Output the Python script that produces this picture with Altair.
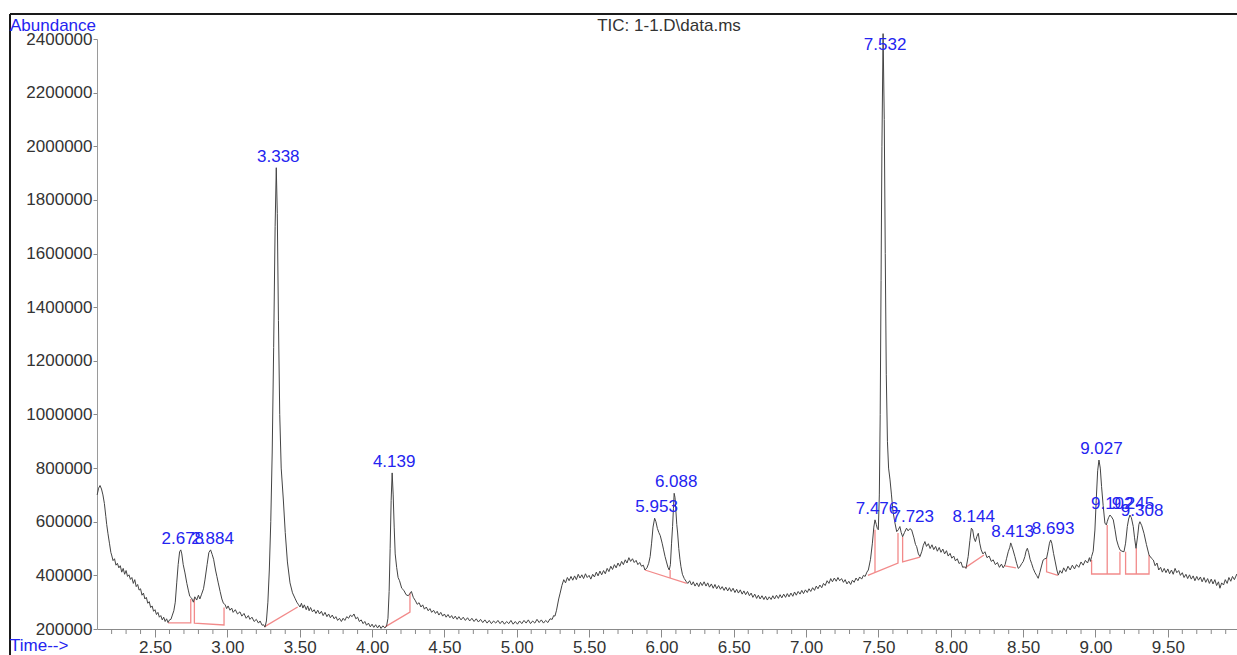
import altair as alt
import pandas as pd
import numpy as np

# ---------------- data (time in min, abundance in thousands) ----------------
trace_a = [(2.100, 700), (2.110, 725), (2.120, 735), (2.130, 722), (2.140, 700), (2.150, 668), (2.160, 620),
           (2.166, 590), (2.175, 555), (2.185, 520), (2.195, 485), (2.200, 476), (2.210, 455), (2.220, 462),
           (2.230, 438), (2.240, 445), (2.250, 428), (2.260, 436), (2.270, 412), (2.280, 426), (2.290, 404),
           (2.300, 418), (2.310, 396), (2.320, 402), (2.330, 385), (2.340, 392), (2.350, 370), (2.360, 384),
           (2.370, 358), (2.380, 366), (2.390, 345), (2.400, 350), (2.410, 326), (2.420, 334), (2.430, 312),
           (2.440, 318), (2.450, 296), (2.460, 302), (2.470, 280), (2.480, 286), (2.490, 266), (2.500, 272),
           (2.510, 254), (2.520, 262), (2.530, 244), (2.540, 250), (2.550, 234), (2.560, 244), (2.570, 228),
           (2.580, 238), (2.590, 224), (2.600, 234), (2.610, 236), (2.620, 252)]
trace_b = [(2.630, 268), (2.640, 300), (2.650, 372), (2.660, 440), (2.670, 488), (2.678, 495), (2.685, 480),
           (2.695, 440), (2.707, 409), (2.720, 370), (2.730, 345), (2.740, 322), (2.753, 315), (2.765, 300),
           (2.775, 320), (2.788, 308), (2.800, 326), (2.810, 312), (2.822, 330), (2.835, 350), (2.845, 383),
           (2.860, 440), (2.872, 485), (2.884, 495), (2.895, 478), (2.905, 460), (2.918, 420), (2.928, 395),
           (2.937, 372), (2.950, 340), (2.962, 312), (2.972, 297), (2.985, 290), (2.995, 276), (3.005, 286),
           (3.018, 270), (3.030, 278), (3.040, 262), (3.055, 272), (3.070, 256), (3.087, 264), (3.100, 248),
           (3.115, 258), (3.130, 240), (3.145, 250), (3.156, 236), (3.170, 244), (3.185, 228), (3.200, 236),
           (3.215, 222), (3.226, 230), (3.240, 214), (3.250, 216), (3.260, 207)]
trace_c = [(3.270, 230), (3.280, 300), (3.290, 420), (3.300, 600), (3.310, 860), (3.320, 1250), (3.330, 1700),
           (3.338, 1920), (3.345, 1750), (3.353, 1350), (3.362, 1000), (3.372, 800), (3.387, 681), (3.400, 560),
           (3.415, 450), (3.433, 372), (3.450, 335), (3.467, 315), (3.480, 300), (3.490, 292), (3.502, 282),
           (3.512, 296), (3.522, 278), (3.532, 290), (3.545, 272), (3.555, 286), (3.565, 268), (3.575, 280),
           (3.588, 264), (3.600, 272), (3.612, 258), (3.625, 270), (3.637, 256), (3.650, 266), (3.662, 250),
           (3.675, 262), (3.688, 246), (3.700, 256), (3.712, 242), (3.725, 252), (3.738, 238), (3.750, 246),
           (3.762, 232), (3.775, 240), (3.788, 228), (3.800, 240), (3.812, 232), (3.825, 246), (3.838, 240),
           (3.850, 252), (3.862, 246), (3.875, 256), (3.888, 238), (3.900, 244), (3.912, 228), (3.925, 234),
           (3.938, 220), (3.950, 228), (3.962, 214), (3.975, 222), (3.988, 208), (4.000, 218), (4.012, 206),
           (4.025, 216), (4.038, 204), (4.050, 214), (4.062, 202), (4.075, 212), (4.088, 204), (4.100, 210)]
trace_d = [(4.110, 240), (4.118, 340), (4.125, 500), (4.132, 680), (4.139, 782), (4.146, 700), (4.153, 580),
           (4.160, 480), (4.170, 430), (4.180, 392), (4.190, 380), (4.205, 352), (4.220, 344), (4.235, 328),
           (4.250, 324), (4.262, 332), (4.272, 340), (4.285, 318), (4.300, 305), (4.312, 292), (4.325, 298),
           (4.338, 282), (4.350, 290), (4.362, 274), (4.375, 282), (4.388, 268), (4.400, 276), (4.412, 262),
           (4.425, 270), (4.438, 258), (4.450, 266), (4.462, 252), (4.475, 262), (4.488, 248), (4.500, 256),
           (4.512, 244), (4.525, 254), (4.538, 242), (4.550, 250), (4.562, 238), (4.575, 248), (4.588, 236),
           (4.600, 246), (4.615, 234), (4.630, 244), (4.645, 232), (4.660, 242), (4.675, 230), (4.690, 240),
           (4.705, 228), (4.720, 238), (4.735, 226), (4.750, 236), (4.765, 224), (4.780, 234), (4.795, 222),
           (4.810, 232), (4.825, 220), (4.840, 230), (4.855, 222), (4.870, 232), (4.885, 220), (4.900, 230),
           (4.915, 218), (4.930, 228), (4.945, 220), (4.960, 232), (4.975, 218), (4.990, 228), (5.005, 218),
           (5.020, 230), (5.035, 220), (5.050, 232), (5.065, 222), (5.080, 234), (5.095, 220), (5.110, 230),
           (5.125, 222), (5.140, 236), (5.155, 224), (5.170, 234), (5.185, 222), (5.200, 232), (5.215, 224),
           (5.230, 238), (5.245, 236), (5.255, 250), (5.264, 248)]
trace_e = [(5.275, 270), (5.290, 312), (5.300, 334), (5.312, 362), (5.325, 384), (5.337, 372), (5.350, 392),
           (5.362, 380), (5.375, 396), (5.387, 382), (5.400, 398), (5.412, 384), (5.425, 404), (5.437, 390),
           (5.450, 402), (5.462, 388), (5.475, 406), (5.487, 392), (5.500, 400), (5.512, 386), (5.525, 404),
           (5.537, 394), (5.550, 412), (5.562, 398), (5.575, 416), (5.587, 402), (5.600, 418), (5.612, 406),
           (5.625, 426), (5.637, 414), (5.650, 434), (5.662, 422), (5.675, 440), (5.687, 428), (5.700, 446),
           (5.712, 434), (5.725, 452), (5.737, 440), (5.750, 458), (5.762, 446), (5.775, 466), (5.787, 452),
           (5.800, 462), (5.812, 448), (5.825, 456), (5.837, 440), (5.850, 448), (5.862, 434), (5.875, 438),
           (5.886, 420), (5.900, 428), (5.912, 445), (5.922, 470), (5.932, 520), (5.942, 580), (5.953, 613),
           (5.962, 600), (5.972, 575), (5.982, 560), (5.992, 548), (6.005, 520), (6.015, 495), (6.025, 470),
           (6.035, 450), (6.045, 430), (6.054, 420), (6.062, 440), (6.070, 520), (6.077, 582), (6.083, 650),
           (6.088, 706), (6.094, 690), (6.100, 640), (6.106, 590), (6.112, 558), (6.120, 500), (6.128, 460),
           (6.135, 432), (6.145, 404), (6.158, 388), (6.170, 378), (6.182, 370), (6.195, 380), (6.208, 364),
           (6.220, 376), (6.232, 360), (6.245, 372), (6.258, 358), (6.270, 374), (6.282, 362), (6.295, 376),
           (6.308, 360), (6.320, 372), (6.332, 356), (6.345, 368), (6.358, 352), (6.370, 366), (6.382, 350),
           (6.395, 362), (6.408, 348), (6.420, 358), (6.433, 344), (6.445, 356)]
trace_f = [(6.458, 342), (6.470, 354), (6.482, 340), (6.495, 352), (6.508, 336), (6.520, 348), (6.532, 334),
           (6.545, 346), (6.558, 330), (6.570, 342), (6.582, 328), (6.595, 340), (6.608, 324), (6.620, 334),
           (6.632, 318), (6.645, 330), (6.658, 314), (6.670, 326), (6.682, 312), (6.695, 324), (6.708, 310),
           (6.720, 322), (6.732, 308), (6.745, 320), (6.758, 310), (6.770, 324), (6.782, 312), (6.795, 326),
           (6.808, 314), (6.820, 328), (6.832, 316), (6.845, 330), (6.858, 318), (6.870, 332), (6.882, 320),
           (6.895, 334), (6.908, 322), (6.920, 338), (6.932, 326), (6.945, 340), (6.958, 330), (6.970, 344),
           (6.982, 332), (6.995, 346), (7.008, 336), (7.020, 350), (7.032, 340), (7.045, 354), (7.058, 344),
           (7.070, 360), (7.082, 350), (7.095, 364), (7.108, 354), (7.120, 370), (7.132, 362), (7.145, 380),
           (7.158, 370), (7.170, 388), (7.182, 376), (7.195, 390), (7.208, 378), (7.220, 392), (7.232, 380),
           (7.245, 388), (7.258, 374), (7.270, 384), (7.282, 368), (7.295, 378), (7.308, 366), (7.320, 382),
           (7.332, 374), (7.345, 390), (7.358, 380), (7.370, 394), (7.384, 386), (7.396, 400), (7.408, 396),
           (7.420, 412), (7.430, 420)]
trace_g = [(7.445, 460), (7.458, 520), (7.468, 580), (7.476, 607), (7.485, 590), (7.492, 575), (7.499, 570),
           (7.506, 700), (7.512, 1000), (7.518, 1500), (7.524, 2000), (7.532, 2420), (7.540, 2100), (7.547, 1600),
           (7.554, 1150), (7.562, 900), (7.570, 800), (7.580, 756), (7.590, 700), (7.600, 640), (7.614, 595),
           (7.626, 563), (7.637, 570), (7.648, 582), (7.657, 560), (7.667, 544), (7.680, 560), (7.694, 576),
           (7.705, 566), (7.717, 574), (7.729, 570), (7.745, 540), (7.756, 515), (7.764, 507), (7.776, 480),
           (7.787, 470), (7.800, 490), (7.810, 512), (7.821, 526), (7.832, 508), (7.845, 518), (7.857, 500),
           (7.870, 514), (7.882, 496), (7.895, 508), (7.907, 490), (7.920, 504), (7.932, 486), (7.945, 498),
           (7.957, 480), (7.970, 492), (7.982, 472), (7.995, 482), (8.007, 464), (8.020, 472), (8.032, 454),
           (8.045, 462), (8.057, 444), (8.070, 450), (8.082, 430), (8.094, 432), (8.105, 426)]
trace_h = [(8.120, 470), (8.132, 530), (8.142, 576), (8.151, 570), (8.160, 540), (8.170, 526), (8.180, 545),
           (8.190, 557), (8.200, 520), (8.210, 495), (8.222, 480), (8.236, 488), (8.250, 466), (8.265, 472),
           (8.280, 452), (8.293, 458), (8.308, 440), (8.322, 448), (8.336, 430), (8.350, 442), (8.362, 428),
           (8.375, 440), (8.385, 462), (8.397, 488), (8.408, 505), (8.414, 521), (8.420, 512), (8.430, 495),
           (8.443, 470), (8.455, 445), (8.466, 426), (8.478, 432), (8.490, 444), (8.500, 451), (8.512, 470),
           (8.520, 490), (8.529, 501), (8.538, 485), (8.548, 460), (8.558, 445), (8.570, 425), (8.582, 410),
           (8.593, 400), (8.604, 389), (8.615, 410), (8.627, 435), (8.638, 457), (8.650, 462), (8.662, 464),
           (8.672, 490), (8.682, 520), (8.690, 532), (8.698, 520), (8.710, 482), (8.722, 450), (8.733, 420),
           (8.743, 401), (8.755, 418), (8.768, 408), (8.780, 428), (8.795, 414), (8.810, 434), (8.825, 420),
           (8.840, 438), (8.855, 424), (8.869, 440), (8.885, 430), (8.900, 450), (8.915, 438), (8.930, 456),
           (8.945, 446), (8.958, 466), (8.965, 452)]
trace_i = [(8.973, 470), (8.984, 490), (8.996, 569), (9.005, 680), (9.015, 790), (9.024, 830), (9.033, 800),
           (9.042, 731), (9.053, 660), (9.065, 595), (9.075, 588), (9.081, 600), (9.090, 615), (9.100, 625),
           (9.111, 618), (9.123, 607), (9.135, 570), (9.146, 532), (9.158, 510), (9.169, 495), (9.183, 490),
           (9.197, 488), (9.208, 520), (9.220, 582), (9.229, 610), (9.238, 625), (9.248, 615), (9.261, 582),
           (9.270, 540), (9.280, 501), (9.292, 550), (9.300, 590), (9.307, 600), (9.320, 585), (9.335, 557),
           (9.352, 515), (9.370, 476), (9.385, 465), (9.400, 457), (9.412, 436), (9.425, 446), (9.437, 420),
           (9.450, 430), (9.462, 412), (9.475, 426), (9.487, 410), (9.500, 424), (9.512, 406), (9.525, 420),
           (9.537, 404), (9.550, 426), (9.562, 410), (9.575, 418), (9.587, 400), (9.600, 410), (9.612, 392),
           (9.625, 404), (9.637, 388), (9.650, 402), (9.662, 386), (9.675, 398), (9.687, 380), (9.700, 396),
           (9.712, 382), (9.725, 394), (9.737, 376), (9.750, 392), (9.762, 374), (9.775, 388), (9.787, 370),
           (9.800, 386), (9.812, 368), (9.825, 384), (9.837, 362), (9.850, 376), (9.860, 352), (9.872, 372),
           (9.885, 364), (9.897, 384), (9.910, 370), (9.922, 392), (9.935, 378), (9.947, 396), (9.960, 384),
           (9.977, 405)]

# integration baselines (time, abundance in thousands), one polyline each
baselines = [
    [(2.590, 223), (2.747, 223), (2.747, 312)],
    [(2.772, 312), (2.772, 222), (2.977, 215), (2.977, 280)],
    [(3.255, 208), (3.486, 282)],
    [(4.090, 208), (4.262, 263), (4.262, 335)],
    [(5.886, 420), (6.175, 370)],
    [(6.060, 390), (6.060, 420)],
    [(7.476, 570), (7.476, 413)],
    [(7.427, 400), (7.635, 446), (7.635, 558)],
    [(7.667, 543), (7.667, 450), (7.787, 468)],
    [(8.098, 428), (8.229, 476)],
    [(8.374, 435), (8.450, 428)],
    [(8.662, 465), (8.662, 413), (8.740, 400)],
    [(8.973, 457), (8.973, 405), (9.169, 405), (9.169, 488)],
    [(9.081, 405), (9.081, 588)],
    [(9.208, 488), (9.208, 405), (9.370, 405), (9.370, 476)],
    [(9.282, 405), (9.282, 502)],
]

peak_labels = ["2.678", "2.884", "3.338", "4.139", "5.953", "6.088", "7.476", "7.532",
               "7.723", "8.144", "8.413", "8.693", "9.027", "9.102", "9.245", "9.308"]
peak_times = [2.678, 2.884, 3.338, 4.139, 5.953, 6.088, 7.476, 7.532,
              7.723, 8.144, 8.413, 8.693, 9.027, 9.102, 9.245, 9.308]
peak_heights = [495, 495, 1920, 782, 613, 706, 607, 2420,
                576, 576, 521, 532, 830, 625, 625, 600]

x_major = [2.5, 3.0, 3.5, 4.0, 4.5, 5.0, 5.5, 6.0, 6.5, 7.0, 7.5, 8.0, 8.5, 9.0, 9.5]
x_minor = [2.2, 2.3, 2.4, 2.6, 2.7, 2.8, 2.9, 3.1, 3.2, 3.3, 3.4, 3.6, 3.7, 3.8, 3.9,
           4.1, 4.2, 4.3, 4.4, 4.6, 4.7, 4.8, 4.9, 5.1, 5.2, 5.3, 5.4, 5.6, 5.7, 5.8, 5.9,
           6.1, 6.2, 6.3, 6.4, 6.6, 6.7, 6.8, 6.9, 7.1, 7.2, 7.3, 7.4, 7.6, 7.7, 7.8, 7.9,
           8.1, 8.2, 8.3, 8.4, 8.6, 8.7, 8.8, 8.9, 9.1, 9.2, 9.3, 9.4, 9.6, 9.7, 9.8, 9.9]
y_ticks = [200000, 400000, 600000, 800000, 1000000, 1200000, 1400000, 1600000,
           1800000, 2000000, 2200000, 2400000]

# ---------------- tables ----------------
trace = trace_a + trace_b + trace_c + trace_d + trace_e + trace_f + trace_g + trace_h + trace_i
df_trace = pd.DataFrame(trace, columns=["t", "k"])
df_trace["v"] = df_trace["k"] * 1000
df_trace["i"] = range(len(df_trace))

rows = []
for g, line in enumerate(baselines):
    for j, (t, k) in enumerate(line):
        rows.append({"g": g, "o": j, "t": t, "v": k * 1000})
df_base = pd.DataFrame(rows)

df_peaks = pd.DataFrame({"label": peak_labels, "t": peak_times,
                         "v": np.minimum(np.array(peak_heights) * 1000, 2338000)})
df_minor = pd.DataFrame({"t": x_minor})

W, H = 1140, 590
BLUE = "#2424f0"
GREY = "#333333"
FONT = "Liberation Sans"

xs = alt.Scale(domain=[2.099, 9.978], nice=False, zero=False)
ys = alt.Scale(domain=[200000, 2400000], nice=False, zero=False)

x_axis = alt.Axis(values=x_major, format=".2f", title=None, grid=False, tickSize=8,
                  tickColor="#8a8a8a", domainColor="#8a8a8a", labelFontSize=17,
                  labelColor=GREY, labelFont=FONT, labelPadding=2, labelFlush=False)
y_axis = alt.Axis(values=y_ticks, format="d", title=None, grid=False, tickSize=4,
                  tickColor="#8a8a8a", domainColor="#9a9a9a", labelFontSize=17,
                  labelColor=GREY, labelFont=FONT, labelPadding=1, labelFlush=False)

line = alt.Chart(df_trace).mark_line(color="#444444", strokeWidth=1).encode(
    x=alt.X("t:Q", scale=xs, axis=x_axis),
    y=alt.Y("v:Q", scale=ys, axis=y_axis),
    order="i:Q",
)

base_lines = alt.Chart(df_base).mark_line(color="#f28a8a", strokeWidth=1.3).encode(
    x=alt.X("t:Q", scale=xs),
    y=alt.Y("v:Q", scale=ys),
    detail="g:N",
    order="o:Q",
)

minor = alt.Chart(df_minor).mark_rule(color="#8a8a8a", strokeWidth=1).encode(
    x=alt.X("t:Q", scale=xs),
    y=alt.value(H),
    y2=alt.value(H + 5),
)

labels = alt.Chart(df_peaks).mark_text(color=BLUE, fontSize=17, font=FONT, dx=2, dy=-11,
                                       baseline="middle", align="center").encode(
    x=alt.X("t:Q", scale=xs),
    y=alt.Y("v:Q", scale=ys),
    text="label:N",
)

def note(txt, x, y, color, align):
    return alt.Chart(pd.DataFrame({"s": [txt]})).mark_text(
        color=color, fontSize=17, font=FONT, align=align, baseline="middle").encode(
        x=alt.value(x), y=alt.value(y), text="s:N")

abund = note("Abundance", -87, -13, BLUE, "left")
title = note("TIC: 1-1.D\\data.ms", 572, -13, GREY, "center")
timel = note("Time-->", -87, 607, BLUE, "left")

frame_top = alt.Chart(pd.DataFrame({"a": [0]})).mark_rule(color="#1a1a1a", strokeWidth=2).encode(
    x=alt.value(-87), x2=alt.value(W + 5), y=alt.value(-25))
frame_left = alt.Chart(pd.DataFrame({"a": [0]})).mark_rule(color="#1a1a1a", strokeWidth=2).encode(
    x=alt.value(-87), y=alt.value(-25), y2=alt.value(H + 30))

chart = alt.layer(frame_top, frame_left, minor, base_lines, line, labels, abund, title, timel).properties(
    width=W, height=H,
    autosize=alt.AutoSizeParams(type="none"),
    padding={"left": 97, "top": 39, "right": 0, "bottom": 26},
    background="white",
).configure_view(stroke=None)

chart.save("out.html", embed_options={"renderer": "svg", "actions": False})
